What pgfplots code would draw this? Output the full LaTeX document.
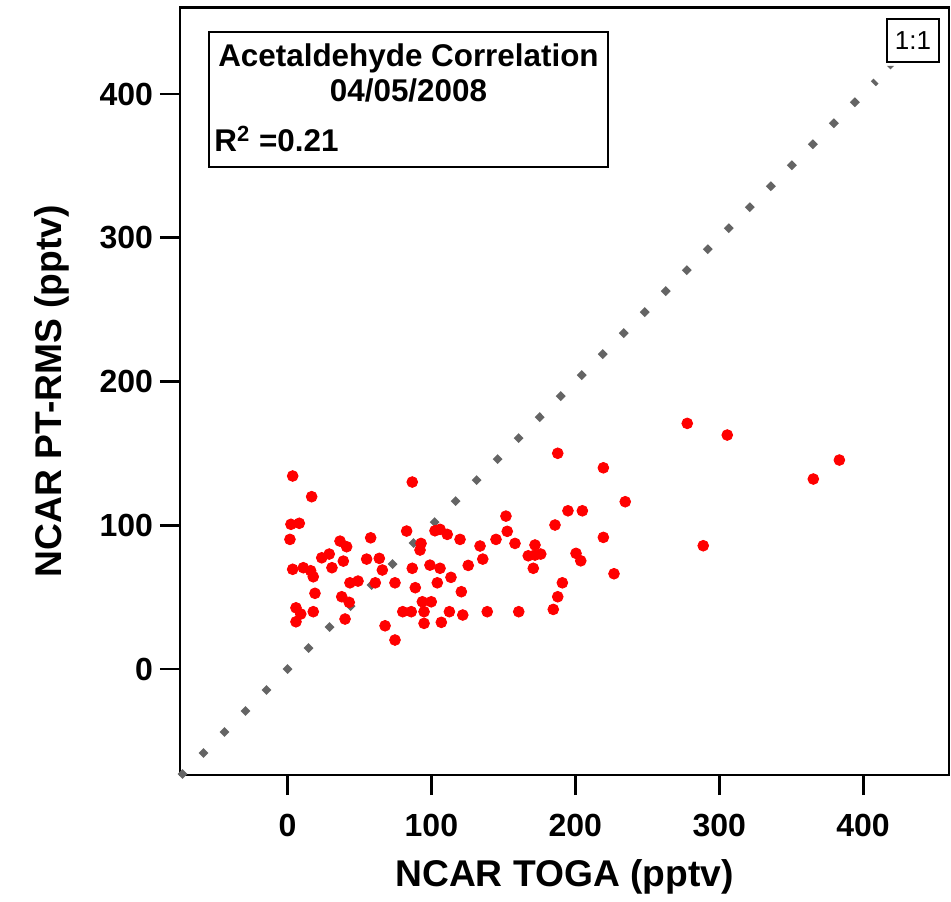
\documentclass[border=0pt]{standalone}
\usepackage{pgfplots}
\pgfplotsset{compat=1.18}
\usepackage{fontspec}
\setmainfont{Liberation Sans}
\definecolor{dotgray}{RGB}{100,100,100}
\begin{document}
\begin{tikzpicture}
\begin{axis}[
  scale only axis,
  width=384.5pt, height=383.75pt,
  at={(0,0)}, anchor=south west,
  xmin=-74.7, xmax=459.7,
  ymin=-73.7, ymax=460.2,
  axis line style={line width=1.4pt},
  xtick={0,100,200,300,400},
  ytick={0,100,200,300,400},
  xtick pos=bottom, ytick pos=left,
  tick align=outside,
  major tick length=10pt,
  every tick/.style={black, line width=1.4pt},
  /pgf/number format/assume math mode=true,
  tick label style={font=\fontsize{16}{16}\selectfont\bfseries},
  xticklabel style={yshift=-6pt},
  xlabel={NCAR TOGA (pptv)},
  ylabel={NCAR PT-RMS (pptv)},
  label style={font=\fontsize{18.6}{18.6}\selectfont\bfseries},
  xlabel style={at={(rel axis cs:0.5,0)}, anchor=center, yshift=-51pt},
  ylabel style={at={(rel axis cs:0,0.5)}, anchor=center, rotate=0, yshift=64pt},
  clip=false,
]
\addplot[dotgray, line width=3.5pt, line cap=butt, dash pattern=on 3.5pt off 11.35pt]
  coordinates {(-74.7,-74.7) (409,409)};
\addplot[only marks, mark=*, mark size=2.7pt, color=red, mark options={draw=red, fill=red}]
  coordinates {
(3.6,134.3) (16.8,119.9) (2.4,100.7) (8.2,101.4) (1.7,90.2) (86.7,130.1)
(36.5,89.0) (41.1,85.1) (57.8,91.3) (23.8,77.4) (29.0,80.0) (38.8,75.1)
(55.0,76.5) (63.8,77.0) (3.6,69.4) (11.0,70.5) (16.1,68.4) (17.9,64.2)
(30.9,70.5) (65.9,68.9) (43.4,60.0) (49.0,61.2) (61.0,60.0) (74.7,60.0)
(19.1,52.7) (37.7,50.3) (42.9,46.4) (5.9,42.6) (9.2,38.3) (5.9,32.9)
(17.9,39.9) (40.0,34.8) (67.8,30.1) (74.7,20.2) (82.8,96.0) (92.8,87.4)
(92.1,82.8) (102.5,96.2) (106.0,97.2) (111.0,93.7) (119.9,90.2) (86.7,70.1)
(99.0,72.3) (106.0,70.1) (125.6,72.1) (113.6,63.8) (88.8,56.6) (104.1,60.0)
(120.8,53.8) (93.7,46.8) (99.9,46.8) (80.1,39.9) (86.0,39.9) (94.9,39.9)
(112.5,39.9) (121.8,37.6) (94.9,31.8) (106.9,32.5) (187.8,150.1) (219.5,140.0)
(234.7,116.4) (194.9,110.1) (204.9,110.1) (151.8,106.4) (185.9,100.2) (219.5,91.6)
(152.7,95.8) (144.9,90.2) (158.1,87.4) (133.8,85.6) (172.0,86.3) (167.3,78.8)
(172.0,79.3) (176.0,80.0) (135.7,76.5) (200.5,80.5) (203.8,75.3) (170.8,70.1)
(226.9,66.3) (191.0,60.0) (187.8,50.3) (184.7,41.5) (138.8,39.9) (160.7,39.9)
(277.8,170.9) (305.6,162.8) (383.5,145.4) (365.4,132.2) (288.9,85.8)
  };
\end{axis}
% title box
\draw[line width=1.2pt, fill=white] (14.5pt,304pt) rectangle (214pt,371.5pt);
\node[anchor=base, font=\fontsize{15.7}{15.7}\selectfont\bfseries, inner sep=0pt] at (114.25pt,354.2pt) {Acetaldehyde Correlation};
\node[anchor=base, font=\fontsize{15.7}{15.7}\selectfont\bfseries, inner sep=0pt] at (114.25pt,336.7pt) {04/05/2008};
\node[anchor=base west, font=\fontsize{15.7}{15.7}\selectfont\bfseries, inner sep=0pt] at (17pt,311.5pt) {R\textsuperscript{2} =0.21};
% 1:1 label
\draw[line width=1pt, fill=white] (353.5pt,356.5pt) rectangle (379.5pt,378pt);
\node[font=\fontsize{13}{13}\selectfont, inner sep=0pt] at (366.5pt,367.25pt) {1:1};
\fill[dotgray] (353.5pt,354.5pt) -- (357pt,354.5pt) -- (355.25pt,352.8pt) -- cycle;
\pgfresetboundingbox
\path[use as bounding box] (-90pt,-63pt) rectangle (385.5pt,387.5pt);
\end{tikzpicture}
\end{document}
